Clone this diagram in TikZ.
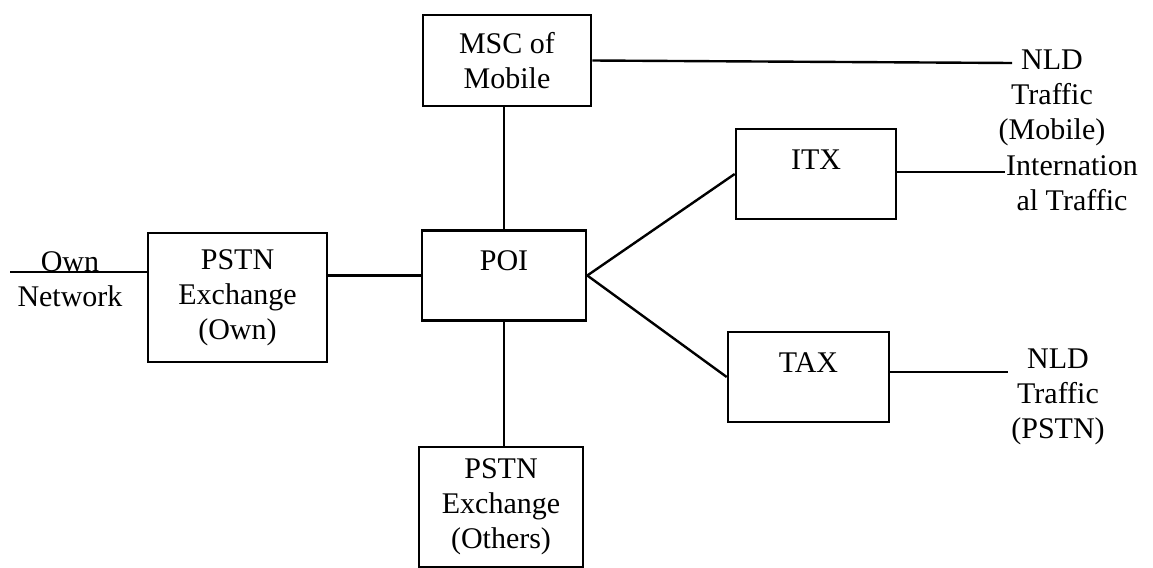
\documentclass[tikz,border=0pt]{standalone}
\usepackage{fontspec}
\setmainfont{Liberation Serif}
\usepackage{tikz}
\usetikzlibrary{positioning}

\begin{document}
\begin{tikzpicture}[x=0.5pt, y=-0.5pt,
    font=\fontsize{15pt}{17.5pt}\selectfont,
    hop/.style={draw, line width=1.3pt, align=center, inner sep=0pt},
    hoptren/.style={hop, text height=20pt, text depth=25pt},
    day/.style={line width=1.2pt}]

    \useasboundingbox (0,0) rectangle (1153,568);

    % =================================================================
    % 1. CÁC KHỐI (TỔNG ĐÀI)
    % =================================================================
    \node[hop, minimum width=84pt, minimum height=45.5pt] (msc) at (507,60.5) {MSC of\\Mobile};
    \node[hoptren, minimum width=82pt] (poi) at (504,275.5) {POI};
    \node[hoptren, minimum width=80pt] (itx) at (816,174) {ITX};
    \node[hoptren, minimum width=80.5pt] (tax) at (808.5,377) {TAX};
    \node[hop, minimum width=89.5pt, minimum height=64.5pt] (own) at (237.5,297.5) {PSTN\\Exchange\\(Own)};
    \node[hop, minimum width=82pt, minimum height=60pt] (others) at (501,507) {PSTN\\Exchange\\(Others)};

    % =================================================================
    % 2. NHÃN Ở HAI ĐẦU
    % =================================================================
    \node[align=center] (ownnet) at (70,279) {Own\\Network};
    \node[align=center] (nldm) at (1052,98) {NLD\\Traffic\\(Mobile)};
    \node[align=center] (intl) at (1072,183.5) {Internation\\al Traffic};
    \node[align=center] (nldp) at (1058,397) {NLD\\Traffic\\(PSTN)};

    % Đầu tự do của các đường nối
    \coordinate (dauown) at (10,272);
    \coordinate (cuoimsc) at (1012,63);
    \coordinate (cuoiitx) at (1005,172);
    \coordinate (cuoitax) at (1008,372);

    % =================================================================
    % 3. CÁC ĐƯỜNG NỐI
    % =================================================================
    \draw[day] (dauown) -- (dauown -| own.west);
    \draw[day] (own.east |- poi.west) -- (poi.west);
    \draw[day] (poi.north) -- (poi.north |- msc.south);
    \draw[day] (poi.south) -- (poi.south |- others.north);
    \draw[day] (poi.east) -- (itx.west);
    \draw[day] (poi.east) -- (tax.west);
    \draw[day] (msc.east) -- (cuoimsc);
    \draw[day] (cuoiitx -| itx.east) -- (cuoiitx);
    \draw[day] (cuoitax -| tax.east) -- (cuoitax);

\end{tikzpicture}
\end{document}
